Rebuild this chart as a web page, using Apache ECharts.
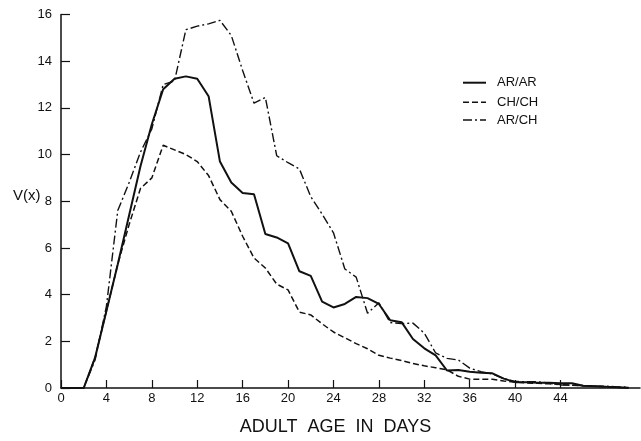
<!DOCTYPE html>
<html>
<head>
<meta charset="utf-8">
<script src="https://cdn.jsdelivr.net/npm/echarts@6/dist/echarts.min.js"></script>
<style>
html,body{margin:0;padding:0;background:#fff;}
#c{width:641px;height:441px;}
</style>
</head>
<body>
<div id="c"></div>
<script>
// Adult age in days (x) and V(x) for three genotypes
var days = [0,1,2,3,4,5,6,7,8,9,10,11,12,13,14,15,16,17,18,19,20,21,22,23,24,25,26,27,28,29,30,31,32,33,34,35,36,37,38,39,40,41,42,43,44,45,46,47,48,49,50];
var arAr = [0,0,0,1.3,3.3,5.3,7.4,9.5,11.3,12.8,13.25,13.35,13.25,12.5,9.7,8.8,8.35,8.3,6.6,6.45,6.2,5.0,4.8,3.7,3.45,3.6,3.9,3.85,3.6,2.9,2.82,2.1,1.7,1.4,0.75,0.77,0.7,0.65,0.63,0.4,0.25,0.25,0.23,0.22,0.2,0.2,0.1,0.08,0.05,0.03,0];
var chCh = [0,0,0,1.3,3.3,5.3,7.0,8.55,9.0,10.4,10.2,10.0,9.7,9.1,8.07,7.57,6.5,5.57,5.14,4.45,4.2,3.25,3.13,2.75,2.4,2.15,1.9,1.68,1.4,1.28,1.18,1.05,0.95,0.87,0.78,0.5,0.38,0.37,0.37,0.3,0.25,0.22,0.2,0.18,0.15,0.12,0.1,0.08,0.05,0.03,0.02];
var arCh = [0,0,0,1.2,3.5,7.6,8.8,10.1,11.1,13.0,13.15,15.35,15.5,15.6,15.75,15.1,13.6,12.2,12.45,9.95,9.65,9.38,8.2,7.45,6.65,5.1,4.75,3.2,3.65,2.8,2.76,2.78,2.35,1.5,1.27,1.2,0.85,0.7,0.6,0.4,0.28,0.27,0.27,0.2,0.13,0.12,0.1,0.08,0.08,0.05,0.04];
var xTicks = [0,4,8,12,16,20,24,28,32,36,40,44];
var yTicks = [0,2,4,6,8,10,12,14,16];
var seriesNames = ['AR/AR','CH/CH','AR/CH'];

function pairs(vals){ return days.map(function(d,i){ return [d, vals[i]]; }); }

var FONT = 'Liberation Sans';
var INK = '#111';
var styles = [
  {width:2, type:'solid', dash:null},
  {width:1.5, type:[6,3], dash:[6,3]},
  {width:1.4, type:[9,3,2,3], dash:[9,3,2,3]}
];

// legend drawn as graphic (plain line samples, no symbols)
var legendGraphics = [];
var legendRows = [82.7, 102.3, 120];
seriesNames.forEach(function(name, i){
  legendGraphics.push({type:'line', shape:{x1:463, y1:legendRows[i], x2:486, y2:legendRows[i]},
    style:{stroke:INK, lineWidth:styles[i].width, lineDash:styles[i].dash}});
  legendGraphics.push({type:'text', x:497, y:legendRows[i],
    style:{text:name, font:'13px "Liberation Sans"', fill:INK, textVerticalAlign:'middle'}});
});

var chart = echarts.init(document.getElementById('c'), null, {renderer:'canvas'});
chart.setOption({
  backgroundColor:'#ffffff',
  animation:false,
  grid:{left:61, right:1, top:14.5, bottom:53, containLabel:false},
  xAxis:{
    type:'value', min:0, max:51, interval:4,
    axisLine:{show:true, onZero:false, lineStyle:{color:INK, width:1.5}},
    axisTick:{show:true, inside:true, length:8, customValues:xTicks, lineStyle:{color:INK, width:1.2}},
    axisLabel:{customValues:xTicks, margin:4, fontFamily:FONT, fontSize:13, color:INK},
    splitLine:{show:false}
  },
  yAxis:{
    type:'value', min:0, max:16, interval:2,
    axisLine:{show:true, onZero:false, lineStyle:{color:INK, width:1.5}},
    axisTick:{show:true, inside:true, length:9, lineStyle:{color:INK, width:1.2}},
    axisLabel:{margin:9, fontFamily:FONT, fontSize:13, color:INK, customValues:yTicks},
    splitLine:{show:false}
  },
  graphic:[
    {type:'text', left:13, top:188, style:{text:'V(x)', font:'15px "Liberation Sans"', fill:INK}},
    {type:'text', x:335.5, y:427, style:{text:'ADULT  AGE  IN  DAYS', font:'18px "Liberation Sans"', fill:INK, textAlign:'center', textVerticalAlign:'middle'}}
  ].concat(legendGraphics),
  series:[
    {name:seriesNames[0], type:'line', data:pairs(arAr), symbol:'none', smooth:false,
      lineStyle:{color:INK, width:styles[0].width, type:styles[0].type}},
    {name:seriesNames[1], type:'line', data:pairs(chCh), symbol:'none', smooth:false,
      lineStyle:{color:INK, width:styles[1].width, type:styles[1].type}},
    {name:seriesNames[2], type:'line', data:pairs(arCh), symbol:'none', smooth:false,
      lineStyle:{color:INK, width:styles[2].width, type:styles[2].type}}
  ]
});
</script>
</body>
</html>
